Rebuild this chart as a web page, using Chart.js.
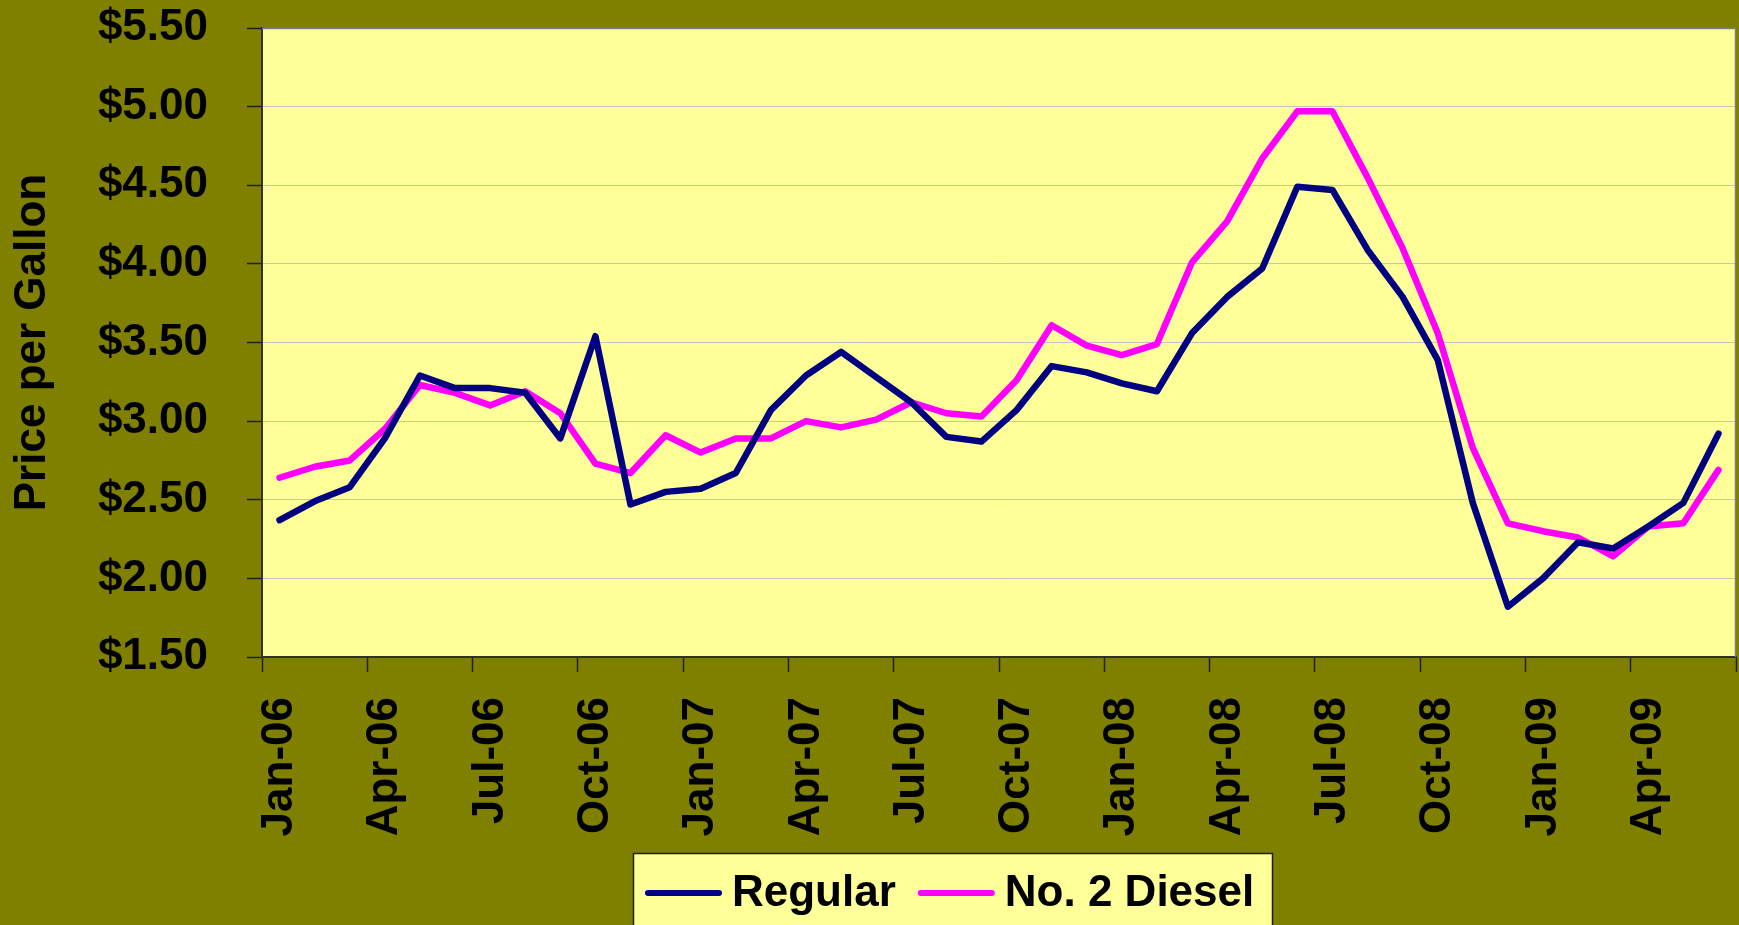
<!DOCTYPE html>
<html>
<head>
<meta charset="utf-8">
<script src="https://cdn.jsdelivr.net/npm/chart.js@4.4.1/dist/chart.umd.min.js"></script>
<style>
  html, body { margin: 0; padding: 0; background: #808000; overflow: hidden; }
  canvas { display: block; }
</style>
</head>
<body>
<canvas id="c" width="1739" height="925"></canvas>
<script>
// ---- Data ----
const months = ['Jan-06','Feb-06','Mar-06','Apr-06','May-06','Jun-06','Jul-06','Aug-06','Sep-06','Oct-06','Nov-06','Dec-06',
                'Jan-07','Feb-07','Mar-07','Apr-07','May-07','Jun-07','Jul-07','Aug-07','Sep-07','Oct-07','Nov-07','Dec-07',
                'Jan-08','Feb-08','Mar-08','Apr-08','May-08','Jun-08','Jul-08','Aug-08','Sep-08','Oct-08','Nov-08','Dec-08',
                'Jan-09','Feb-09','Mar-09','Apr-09','May-09','Jun-09'];
const regular = [2.37,2.49,2.58,2.89,3.29,3.21,3.21,3.18,2.89,3.54,2.47,2.55,
                 2.57,2.67,3.07,3.29,3.44,3.28,3.12,2.90,2.87,3.07,3.35,3.31,
                 3.24,3.19,3.56,3.79,3.97,4.49,4.47,4.09,3.79,3.39,2.48,1.82,
                 2.00,2.23,2.19,2.33,2.48,2.92];
const diesel  = [2.64,2.71,2.75,2.95,3.23,3.18,3.10,3.19,3.05,2.73,2.67,2.91,
                 2.80,2.89,2.89,3.00,2.96,3.01,3.12,3.05,3.03,3.26,3.61,3.48,
                 3.42,3.49,4.01,4.27,4.67,4.97,4.97,4.55,4.10,3.56,2.83,2.35,
                 2.30,2.26,2.14,2.33,2.35,2.69];
const tickLabels = ['Jan-06','Apr-06','Jul-06','Oct-06','Jan-07','Apr-07','Jul-07',
                    'Oct-07','Jan-08','Apr-08','Jul-08','Oct-08','Jan-09','Apr-09'];
const seriesNames = ['Regular', 'No. 2 Diesel'];
const yMin = 1.5, yMax = 5.5, yStep = 0.5;
const axisTitle = 'Price per Gallon';

// ---- Helpers ----
const FONT = '"Liberation Sans", Arial, sans-serif';
const toPoints = arr => arr.map((v, i) => ({ x: i + 0.5, y: v }));

const bgPlugin = {
  id: 'bg',
  beforeDraw(chart) {
    const { ctx, chartArea: a } = chart;
    ctx.save();
    ctx.fillStyle = '#808000';
    ctx.fillRect(0, 0, chart.width, chart.height);
    ctx.fillStyle = '#FFFF99';
    ctx.fillRect(a.left, a.top, a.right - a.left, a.bottom - a.top);
    ctx.restore();
  },
  beforeDatasetsDraw(chart) {
    const { ctx, chartArea: a } = chart;
    ctx.save();
    ctx.strokeStyle = '#808080';
    ctx.lineWidth = 1.5;
    ctx.beginPath();
    ctx.moveTo(a.left, a.top + 0.5);
    ctx.lineTo(a.right - 0.5, a.top + 0.5);
    ctx.lineTo(a.right - 0.5, a.bottom);
    ctx.stroke();
    ctx.restore();
  }
};

const legendPlugin = {
  id: 'boxLegend',
  afterDraw(chart) {
    const ctx = chart.ctx;
    ctx.save();
    ctx.fillStyle = '#FFFF99';
    ctx.fillRect(633, 853, 639, 90);
    ctx.strokeStyle = '#202000';
    ctx.lineWidth = 1.5;
    ctx.strokeRect(633.5, 853.5, 639, 90);
    ctx.font = 'bold 44px ' + FONT;
    ctx.textBaseline = 'alphabetic';
    ctx.textAlign = 'left';
    let x = 648;
    chart.data.datasets.forEach(ds => {
      ctx.strokeStyle = ds.borderColor;
      ctx.lineWidth = 6;
      ctx.lineCap = 'round';
      ctx.beginPath();
      ctx.moveTo(x, 893);
      ctx.lineTo(x + 71, 893);
      ctx.stroke();
      x += 84;
      ctx.fillStyle = '#000';
      ctx.fillText(ds.label, x, 906);
      x += ctx.measureText(ds.label).width + 25;
    });
    ctx.restore();
  }
};

new Chart(document.getElementById('c'), {
  type: 'line',
  data: {
    datasets: [
      { label: seriesNames[0], data: toPoints(regular), borderColor: '#000080', backgroundColor: '#000080',
        borderWidth: 6.5, pointRadius: 0, tension: 0, borderJoinStyle: 'round', borderCapStyle: 'round' },
      { label: seriesNames[1], data: toPoints(diesel), borderColor: '#FF00FF', backgroundColor: '#FF00FF',
        borderWidth: 6.5, pointRadius: 0, tension: 0, borderJoinStyle: 'round', borderCapStyle: 'round' }
    ]
  },
  options: {
    responsive: false,
    animation: false,
    devicePixelRatio: 1,
    layout: { padding: { top: 28, right: 3, bottom: 0, left: 0 } },
    plugins: { legend: { display: false }, tooltip: { enabled: false }, title: { display: false } },
    scales: {
      x: {
        type: 'linear',
        min: 0, max: months.length,
        position: 'bottom',
        afterFit(scale) { scale.height = 268; scale.paddingLeft = 0; scale.paddingRight = 0; },
        grid: { drawOnChartArea: false, drawTicks: true, tickLength: 15, tickColor: '#202020', tickWidth: 1.5 },
        border: { display: true, color: '#303030', width: 2 },
        ticks: {
          stepSize: 3, autoSkip: false, maxRotation: 90, minRotation: 90,
          padding: 25, labelOffset: 18, color: '#000',
          font: { family: FONT, size: 44, weight: 'bold' },
          callback: (v, i) => tickLabels[i] ?? ''
        }
      },
      y: {
        min: yMin, max: yMax,
        afterFit(scale) { scale.width = 262; scale.paddingTop = 0; scale.paddingBottom = 0; },
        grid: { color: '#C4C4C4', lineWidth: 1, tickLength: 15, tickColor: '#202020', tickWidth: 1.5 },
        border: { display: true, color: '#303030', width: 2 },
        ticks: {
          stepSize: yStep, padding: 39, color: '#000',
          font: { family: FONT, size: 44, weight: 'bold' },
          callback: v => '$' + Number(v).toFixed(2)
        },
        title: {
          display: true, text: axisTitle, color: '#000',
          font: { family: FONT, size: 44, weight: 'bold' },
          padding: { top: 6, bottom: 0 }
        }
      }
    }
  },
  plugins: [bgPlugin, legendPlugin]
});
</script>
</body>
</html>
